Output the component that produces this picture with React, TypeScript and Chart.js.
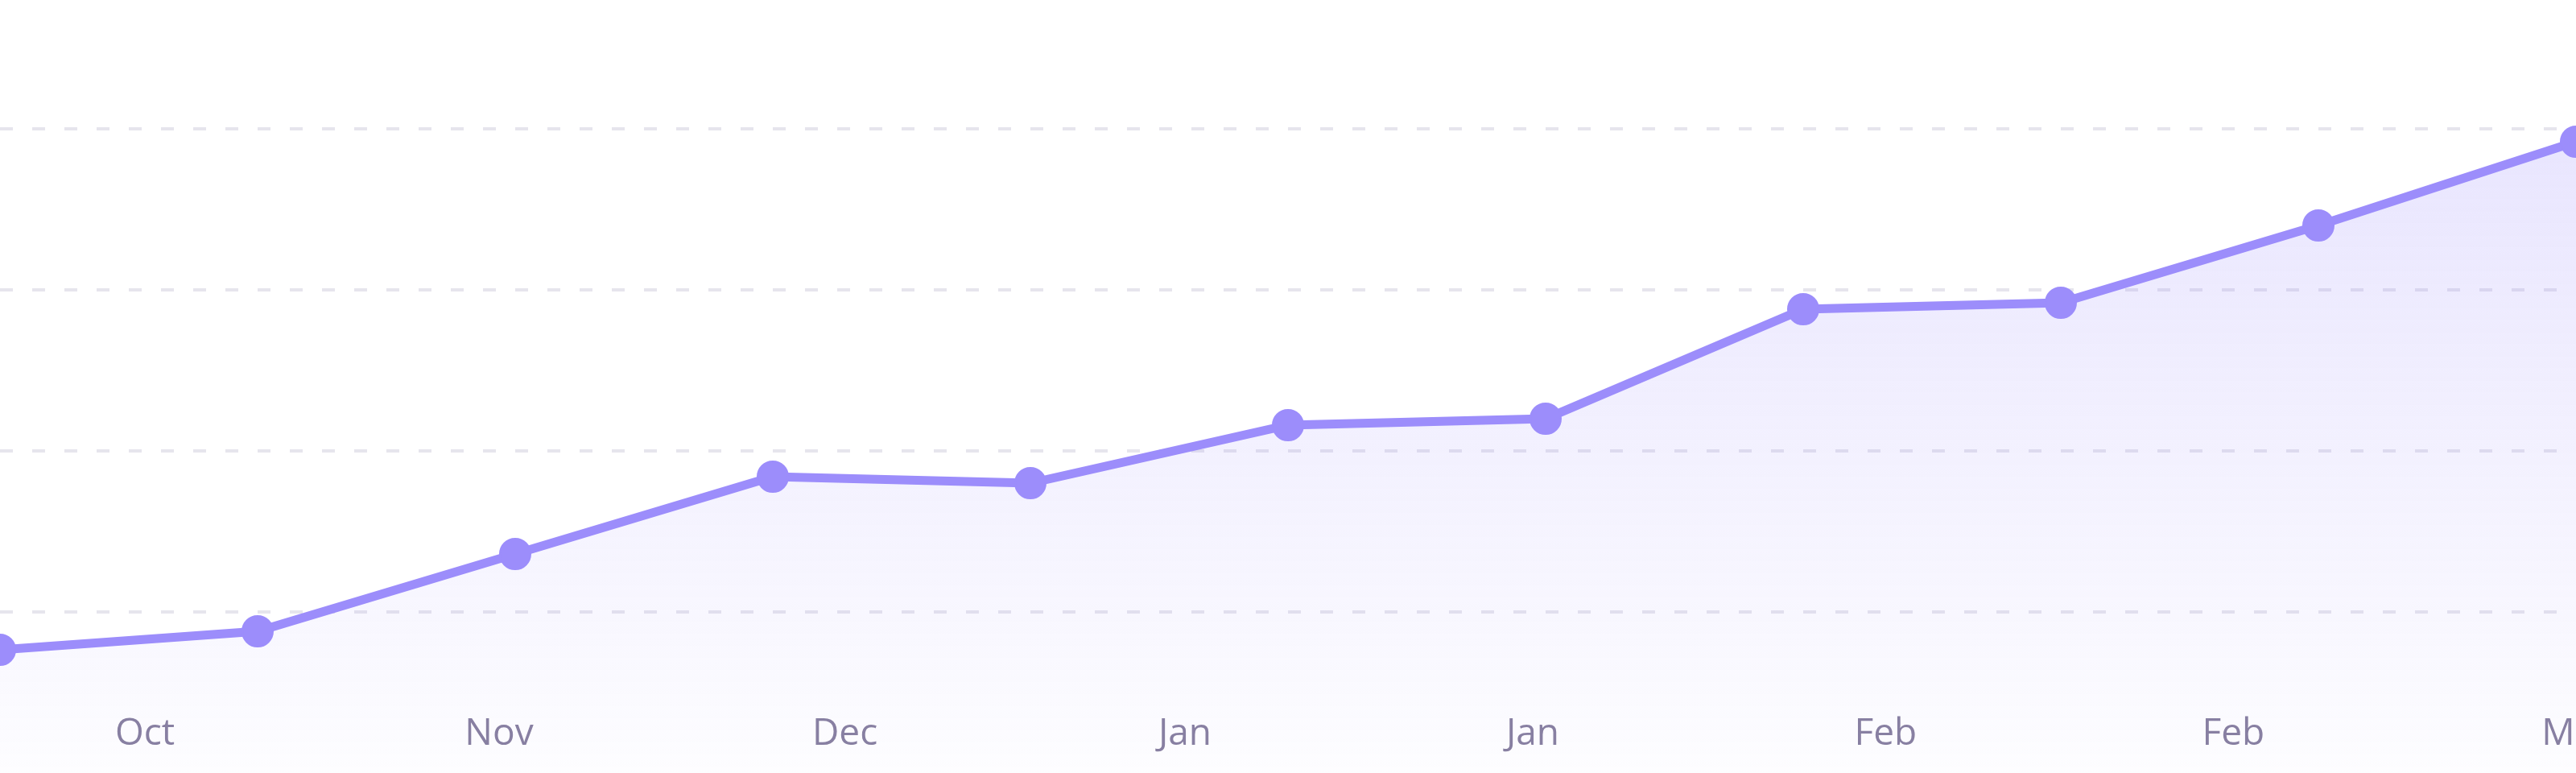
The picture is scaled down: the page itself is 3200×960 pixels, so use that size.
import React, { useEffect, useRef } from 'react';
import { Chart, registerables } from 'chart.js';

Chart.register(...registerables);

// Data points (evenly spaced periods) and their values
const pointIndex = [0, 1, 2, 3, 4, 5, 6, 7, 8, 9, 10];
const seriesValues = [76.5, 88, 136, 184, 180, 216, 220, 288, 292, 340, 392];

// Bottom axis labels and where they sit on the period scale
const tickLabels = ['Oct', 'Nov', 'Dec', 'Jan', 'Jan', 'Feb', 'Feb', 'Mar'];
const tickPositions = [0.5625, 1.9375, 3.28, 4.6, 5.95, 7.32, 8.67, 10];

// Horizontal grid values
const gridValues = [100, 200, 300, 400];

const LINE = 'rgb(156, 141, 251)';

export default function App() {
  const ref = useRef<HTMLCanvasElement | null>(null);

  useEffect(() => {
    const canvas = ref.current;
    if (!canvas) return;
    const chart = new Chart(canvas, {
      type: 'line',
      data: {
        datasets: [
          {
            data: pointIndex.map((x, i) => ({ x, y: seriesValues[i] })),
            borderColor: LINE,
            borderWidth: 11,
            tension: 0,
            pointRadius: 19,
            pointBorderWidth: 2,
            pointBackgroundColor: LINE,
            pointBorderColor: LINE,
            fill: 'origin',
            clip: false as any,
            backgroundColor: (ctx: any) => {
              const { chart } = ctx;
              const area = chart.chartArea;
              if (!area) return 'rgba(156,141,251,0.15)';
              const g = chart.ctx.createLinearGradient(0, area.top, 0, area.bottom);
              g.addColorStop(0, 'rgba(156,141,251,0.27)');
              g.addColorStop(1, 'rgba(156,141,251,0.02)');
              return g;
            },
          },
        ],
      },
      options: {
        responsive: false,
        animation: false,
        layout: { padding: 0, autoPadding: false },
        plugins: { legend: { display: false }, tooltip: { enabled: false } },
        scales: {
          x: {
            type: 'linear',
            min: 0,
            max: 10,
            offset: false,
            grid: { display: false, drawTicks: false },
            border: { display: false },
            ticks: {
              autoSkip: false,
              maxRotation: 0,
              minRotation: 0,
              mirror: true,
              padding: 21,
              color: '#877f9f',
              font: { family: "'Open Sans', 'Noto Sans', sans-serif", size: 46 },
              callback: (_v: any, i: number) => tickLabels[i],
            },
            afterBuildTicks: (s: any) => {
              s.ticks = tickPositions.map((value) => ({ value }));
            },
            afterFit: (s: any) => {
              s.height = 0;
              s.paddingLeft = 0;
              s.paddingRight = 0;
            },
          },
          y: {
            min: 0,
            max: 480,
            grid: { color: '#e6e5ed', lineWidth: 4, drawTicks: false },
            border: { display: false, dash: [16, 24] },
            ticks: { display: false },
            afterBuildTicks: (s: any) => {
              s.ticks = gridValues.map((value) => ({ value }));
            },
            afterFit: (s: any) => {
              s.width = 0;
            },
          },
        },
      },
    });
    return () => chart.destroy();
  }, []);

  return (
    <div style={{ position: 'fixed', left: 0, top: 0, width: 3200, height: 960, background: '#ffffff' }}>
      <canvas ref={ref} width={3200} height={960} style={{ display: 'block' }} />
    </div>
  );
}
